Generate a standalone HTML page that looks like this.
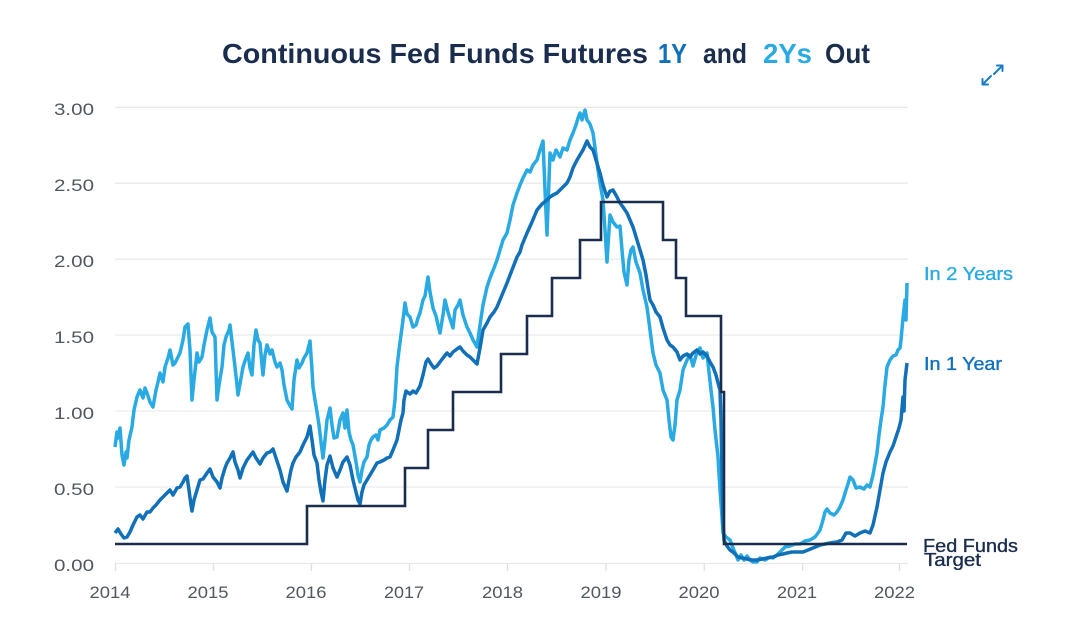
<!DOCTYPE html>
<html>
<head>
<meta charset="utf-8">
<style>
  html, body { margin: 0; padding: 0; background: #ffffff; }
  body { width: 1080px; height: 617px; overflow: hidden; }
  svg { display: block; }
  .ax { font-family: "Liberation Sans", sans-serif; font-size: 17px; fill: #505860; }
  .lab { font-family: "Liberation Sans", sans-serif; font-size: 18px; stroke-width: 0.35; }
  .ttl { font-family: "Liberation Sans", sans-serif; font-size: 28px; font-weight: bold; }
</style>
</head>
<body>
<svg width="1080" height="617" viewBox="0 0 1080 617" xmlns="http://www.w3.org/2000/svg">
  <rect x="0" y="0" width="1080" height="617" fill="#ffffff"/>

  <!-- Title -->
  <text class="ttl" x="222" y="63" fill="#1b2d4d" textLength="426" lengthAdjust="spacingAndGlyphs">Continuous Fed Funds Futures</text>
  <text class="ttl" x="658" y="63" fill="#1170b8" textLength="29" lengthAdjust="spacingAndGlyphs">1Y</text>
  <text class="ttl" x="703" y="63" fill="#1b2d4d" textLength="44" lengthAdjust="spacingAndGlyphs">and</text>
  <text class="ttl" x="763" y="63" fill="#2aaae2" textLength="49" lengthAdjust="spacingAndGlyphs">2Ys</text>
  <text class="ttl" x="825" y="63" fill="#1b2d4d" textLength="45" lengthAdjust="spacingAndGlyphs">Out</text>

  <!-- Expand icon -->
  <g stroke="#1a7cc4" stroke-width="2" fill="none" stroke-linecap="round" stroke-linejoin="round">
    <line x1="994" y1="74" x2="1002.5" y2="65.5"/>
    <polyline points="997,65.5 1002.5,65.5 1002.5,71"/>
    <line x1="991" y1="76" x2="982.5" y2="84.5"/>
    <polyline points="982.5,79 982.5,84.5 988,84.5"/>
  </g>

  <!-- Gridlines -->
  <g stroke="#e9e9ea" stroke-width="1.3">
    <line x1="115" y1="107.3" x2="908" y2="107.3"/>
    <line x1="115" y1="183.2" x2="908" y2="183.2"/>
    <line x1="115" y1="259.1" x2="908" y2="259.1"/>
    <line x1="115" y1="335" x2="908" y2="335"/>
    <line x1="115" y1="411" x2="908" y2="411"/>
    <line x1="115" y1="487" x2="908" y2="487"/>
    <line x1="115" y1="563.5" x2="908" y2="563.5"/>
  </g>
  <!-- X ticks -->
  <g stroke="#e0e0e0" stroke-width="1.3">
    <line x1="115.5" y1="563" x2="115.5" y2="571"/>
    <line x1="213.5" y1="563" x2="213.5" y2="571"/>
    <line x1="311.5" y1="563" x2="311.5" y2="571"/>
    <line x1="409.5" y1="563" x2="409.5" y2="571"/>
    <line x1="507.5" y1="563" x2="507.5" y2="571"/>
    <line x1="606" y1="563" x2="606" y2="571"/>
    <line x1="704.3" y1="563" x2="704.3" y2="571"/>
    <line x1="802.6" y1="563" x2="802.6" y2="571"/>
    <line x1="899.5" y1="563" x2="899.5" y2="571"/>
  </g>

  <!-- Y labels -->
  <g class="ax" text-anchor="end">
    <text x="94" y="115" textLength="40" lengthAdjust="spacingAndGlyphs">3.00</text>
    <text x="94" y="191" textLength="40" lengthAdjust="spacingAndGlyphs">2.50</text>
    <text x="94" y="267" textLength="40" lengthAdjust="spacingAndGlyphs">2.00</text>
    <text x="94" y="343" textLength="40" lengthAdjust="spacingAndGlyphs">1.50</text>
    <text x="94" y="419" textLength="40" lengthAdjust="spacingAndGlyphs">1.00</text>
    <text x="94" y="495" textLength="40" lengthAdjust="spacingAndGlyphs">0.50</text>
    <text x="94" y="571" textLength="40" lengthAdjust="spacingAndGlyphs">0.00</text>
  </g>
  <!-- X labels -->
  <g class="ax">
    <text x="89.5" y="598" textLength="41" lengthAdjust="spacingAndGlyphs">2014</text>
    <text x="187.5" y="598" textLength="41" lengthAdjust="spacingAndGlyphs">2015</text>
    <text x="285.5" y="598" textLength="41" lengthAdjust="spacingAndGlyphs">2016</text>
    <text x="384" y="598" textLength="40" lengthAdjust="spacingAndGlyphs">2017</text>
    <text x="482" y="598" textLength="41" lengthAdjust="spacingAndGlyphs">2018</text>
    <text x="580.5" y="598" textLength="41" lengthAdjust="spacingAndGlyphs">2019</text>
    <text x="678.5" y="598" textLength="41" lengthAdjust="spacingAndGlyphs">2020</text>
    <text x="777" y="598" textLength="40" lengthAdjust="spacingAndGlyphs">2021</text>
    <text x="874" y="598" textLength="41" lengthAdjust="spacingAndGlyphs">2022</text>
  </g>

  <!-- In 2 Years (light blue) -->
  <polyline fill="none" stroke="#2aaae2" stroke-width="3.5" stroke-linejoin="round" points="
115,447 117,432 118,438 120,428 122,455 124,465 126,452 127,458 129,440 132,427 134,410 137,397 140,390 143,398 145,388 147,393 150,402 153,407 156,390 158,382 160,373 163,382 165,367 168,358 170,350 173,365 175,363 178,357 180,353 183,340 185,327 188,324 190,350 192,400 194,380 197,353 199,362 202,357 204,345 207,330 210,318 212,332 215,337 217,400 219,385 222,367 224,345 226,337 229,330 230,325 233,350 235,367 237,385 238,395 241,378 243,367 246,358 248,353 250,368 252,375 254,345 256,330 258,340 260,343 262,365 263,375 265,355 267,345 270,354 272,350 275,362 277,367 280,363 282,370 284,385 287,400 289,404 292,409 294,380 297,360 299,368 302,363 304,358 307,353 310,341 312,370 313,387 315,400 317,412 319,425 321,442 323,458 325,440 327,420 330,408 332,425 334,438 337,437 340,420 343,413 345,428 347,410 349,432 351,440 353,445 356,462 358,475 360,482 362,470 364,462 367,457 369,445 371,440 373,437 376,435 378,440 380,430 384,428 387,425 390,420 393,417 395,400 397,367 399,350 401,335 403,320 405,303 407,314 410,317 413,327 416,325 418,318 420,313 423,300 425,296 428,277 430,292 433,308 436,316 438,325 440,333 443,315 445,300 448,312 451,322 453,328 455,310 458,305 460,300 463,315 467,327 470,333 473,340 477,347 480,325 483,305 487,287 490,278 494,268 497,260 500,250 503,240 507,233 510,220 513,205 517,193 520,185 523,178 527,170 530,172 533,165 537,160 540,150 543,141 545,190 547,235 549,180 550,153 553,160 556,150 560,157 563,148 567,150 570,140 573,133 576,125 578,118 580,113 582,120 585,110 587,120 590,124 593,133 596,155 598,170 600,183 603,200 605,230 607,262 609,230 610,215 613,222 617,227 620,226 622,250 624,272 627,285 629,260 631,250 633,247 636,262 640,273 643,290 647,307 650,330 653,353 656,365 660,373 663,390 667,400 669,420 671,437 673,440 675,425 677,400 680,390 683,370 687,360 690,355 693,366 697,352 700,348 703,358 707,353 709,372 711,390 713,407 715,430 718,457 720,490 722,517 723,533 726,537 730,540 733,548 736,555 738,560 741,555 744,560 747,556 750,560 753,562 757,562 760,558 765,560 770,557 773,558 777,555 781,551 785,547 790,546 795,544 800,544 805,541 810,540 815,537 818,533 820,530 823,520 825,512 827,509 830,513 834,515 837,512 840,507 843,500 846,490 848,484 850,477 853,480 856,488 860,487 864,489 867,485 870,487 873,475 877,453 879,435 881,420 883,407 885,385 887,367 890,360 893,356 896,355 898,350 900,348 901,340 903,318 905,300 906,320 907,283"/>

  <!-- In 1 Year (medium blue) -->
  <polyline fill="none" stroke="#1170b8" stroke-width="3.5" stroke-linejoin="round" points="
115,533 118,529 121,534 124,538 127,537 130,532 133,525 137,517 140,515 143,519 147,512 150,512 153,508 156,505 160,500 163,497 167,493 170,490 173,495 177,488 180,487 183,482 185,478 187,476 189,490 191,505 192,511 194,500 197,490 200,480 203,479 207,473 210,469 213,477 217,482 220,488 222,478 225,468 227,463 230,458 233,452 235,462 238,470 240,478 243,468 247,460 250,456 253,452 256,458 260,464 263,458 267,453 270,452 273,449 276,458 280,470 283,482 287,491 289,480 291,470 293,463 296,457 300,452 303,445 307,437 310,426 312,440 314,455 317,463 319,480 321,492 323,501 325,480 327,465 330,456 333,468 337,477 340,470 343,462 347,457 350,465 353,480 356,492 358,500 360,504 362,492 364,485 367,480 370,475 373,470 377,463 380,462 384,460 387,458 390,457 393,450 397,440 399,430 401,420 403,413 404,400 406,391 410,394 413,391 416,393 420,386 423,375 426,362 428,359 431,364 434,368 437,366 440,362 443,358 447,353 450,356 453,352 457,349 460,347 463,351 467,355 470,357 473,360 477,364 480,348 483,330 487,323 490,317 494,312 497,307 502,295 507,283 512,270 517,257 520,252 522,245 527,233 532,222 537,210 542,204 547,200 550,197 553,195 557,193 560,190 563,187 567,183 570,177 573,168 577,160 580,155 583,150 587,141 590,147 593,150 596,160 600,173 603,185 607,197 610,191 613,190 617,197 620,203 623,207 627,213 630,220 633,227 637,240 640,250 643,260 646,275 648,288 650,300 653,305 656,312 660,317 663,328 667,340 670,345 673,347 677,352 680,360 683,356 687,354 690,357 693,353 697,350 700,354 703,352 707,356 710,362 713,367 716,375 718,383 720,390 721,420 722,473 723,520 724,540 727,546 730,550 734,553 738,557 742,558 747,559 752,560 757,560 762,559 767,558 773,557 778,555 783,554 787,553 792,552 798,552 803,552 808,550 813,548 820,545 825,544 830,543 837,542 842,540 846,533 850,533 855,536 860,533 865,531 870,533 873,525 877,507 880,490 883,473 886,462 890,452 893,446 896,437 899,428 901,420 903,397 904,411 905,380 907,363"/>

  <!-- Fed Funds Target (navy step) -->
  <path fill="none" stroke="#1b2d4d" stroke-width="2.6" stroke-linejoin="miter"
    d="M115,544 H307 V506 H405 V468 H428 V430 H453 V392 H501 V354 H527 V316 H552 V278 H580 V240 H601 V202 H663 V240 H676 V278 H686 V316 H721 V392 H724 V544 H907"/>

  <!-- Right labels -->
  <text class="lab" x="924" y="280" fill="#2aaae2" stroke="#2aaae2" textLength="89" lengthAdjust="spacingAndGlyphs">In 2 Years</text>
  <text class="lab" x="924" y="370" fill="#1170b8" stroke="#1170b8" textLength="78" lengthAdjust="spacingAndGlyphs">In 1 Year</text>
  <text class="lab" x="923" y="552" fill="#1b2d4d" stroke="#1b2d4d" textLength="95" lengthAdjust="spacingAndGlyphs">Fed Funds</text>
  <text class="lab" x="924" y="566" fill="#1b2d4d" stroke="#1b2d4d" textLength="57" lengthAdjust="spacingAndGlyphs">Target</text>
</svg>
</body>
</html>
